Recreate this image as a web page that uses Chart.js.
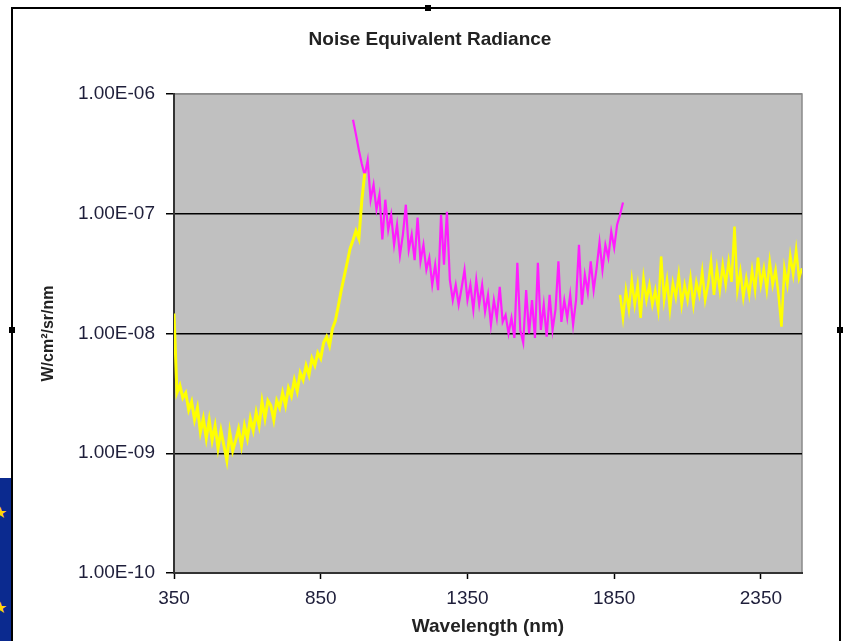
<!DOCTYPE html>
<html>
<head>
<meta charset="utf-8">
<script src="https://cdn.jsdelivr.net/npm/chart.js@4.4.0/dist/chart.umd.min.js"></script>
<style>
html, body { margin: 0; padding: 0; background: #fff; width: 845px; height: 641px; overflow: hidden; position: relative; }
#frame { position: absolute; left: 12px; top: 8px; width: 826px; height: 633px; }
.line { position: absolute; background: #000; }
.handle { position: absolute; width: 6px; height: 6px; background: #000; }
#flag { position: absolute; left: 0; top: 478px; width: 11px; height: 163px; background: #0b2a8f; overflow: hidden; }
.star { position: absolute; left: -7px; color: #ffd800; font-size: 16px; line-height: 16px; font-family: "DejaVu Sans", sans-serif; }
</style>
</head>
<body>
<div id="flag"><span class="star" style="top:27px">★</span><span class="star" style="top:122px">★</span></div>
<div id="frame"><canvas id="nerChart" width="826" height="633"></canvas></div>
<div class="line" style="left:11px;top:8px;width:2px;height:633px"></div>
<div class="line" style="left:11px;top:7px;width:830px;height:2px"></div>
<div class="line" style="left:839px;top:7px;width:2px;height:634px"></div>
<div class="handle" style="left:425px;top:5px"></div>
<div class="handle" style="left:9px;top:327px"></div>
<div class="handle" style="left:837px;top:327px"></div>
<script>
// VNIR detector (yellow, left part)
const wlVnir = [350, 360, 370, 380, 390, 400, 410, 420, 430, 440, 450, 460, 470, 480, 490, 500,
	510, 520, 530, 540, 550, 560, 570, 580, 590, 600, 610, 620, 630, 640, 650, 660, 670, 680,
	690, 700, 710, 720, 730, 740, 750, 760, 770, 780, 790, 800, 810, 820, 830, 840, 850, 860,
	870, 880, 890, 900, 910, 920, 930, 940, 950, 960, 970, 980, 990, 1000];
const nerVnir = [1.47e-8, 3.2e-9, 3.7e-9, 2.9e-9, 3.2e-9, 2.3e-9, 2.7e-9, 1.9e-9, 2.4e-9, 1.5e-9,
	1.95e-9, 1.33e-9, 1.9e-9, 1.28e-9, 1.7e-9, 1.1e-9, 1.55e-9, 1.16e-9, 8.7e-10, 1.5e-9,
	1.05e-9, 1.28e-9, 1.6e-9, 1.16e-9, 1.7e-9, 1.33e-9, 1.95e-9, 1.55e-9, 2.2e-9, 1.7e-9,
	2.7e-9, 1.95e-9, 2.75e-9, 2.5e-9, 1.9e-9, 2.75e-9, 2.4e-9, 3.2e-9, 2.5e-9, 3.5e-9,
	3.0e-9, 4.1e-9, 3.3e-9, 4.7e-9, 4.1e-9, 5.4e-9, 4.5e-9, 6.2e-9, 5.4e-9, 6.9e-9,
	6.2e-9, 8.4e-9, 9.4e-9, 7.9e-9, 1.1e-8, 1.28e-8, 1.7e-8, 2.3e-8, 3.0e-8, 3.9e-8,
	5.1e-8, 6.0e-8, 7.2e-8, 6.2e-8, 1.29e-7, 2.17e-7];

// SWIR1 detector (magenta)
const wlSwir1 = [960, 970, 980, 990, 1000, 1010, 1020, 1030, 1040, 1050, 1060, 1070, 1080, 1090,
	1100, 1110, 1120, 1130, 1140, 1150, 1160, 1170, 1180, 1190, 1200, 1210, 1220, 1230, 1240,
	1250, 1260, 1270, 1280, 1290, 1300, 1310, 1320, 1330, 1340, 1350, 1360, 1370, 1380, 1390,
	1400, 1410, 1420, 1430, 1440, 1450, 1460, 1470, 1480, 1490, 1500, 1510, 1520, 1530, 1540,
	1550, 1560, 1570, 1580, 1590, 1600, 1610, 1620, 1630, 1640, 1650, 1660, 1670, 1680, 1690,
	1700, 1710, 1720, 1730, 1740, 1750, 1760, 1770, 1780, 1790, 1800, 1810, 1820, 1830, 1840,
	1850, 1860, 1870, 1880];
const nerSwir1 = [6.1e-7, 4.6e-7, 3.4e-7, 2.6e-7, 2.1e-7, 2.8e-7, 1.31e-7, 1.75e-7, 1.08e-7, 1.44e-7,
	6.1e-8, 1.31e-7, 7.3e-8, 9.8e-8, 5.5e-8, 8.1e-8, 4.5e-8, 6.7e-8, 1.19e-7, 5.0e-8,
	6.7e-8, 4.1e-8, 9.3e-8, 4.0e-8, 5.5e-8, 3.4e-8, 4.3e-8, 2.55e-8, 3.75e-8, 2.3e-8,
	9.8e-8, 3.75e-8, 1.04e-7, 2.8e-8, 1.9e-8, 2.55e-8, 1.74e-8, 2.4e-8, 3.4e-8, 1.9e-8,
	2.55e-8, 1.58e-8, 2.8e-8, 1.74e-8, 2.55e-8, 1.52e-8, 2.1e-8, 1.18e-8, 1.9e-8, 1.35e-8,
	2.45e-8, 1.25e-8, 1.43e-8, 1.0e-8, 1.35e-8, 9.2e-9, 3.9e-8, 1.07e-8, 8.4e-9, 2.3e-8,
	1.0e-8, 1.9e-8, 9.2e-9, 3.9e-8, 1.07e-8, 1.74e-8, 9.4e-9, 2.1e-8, 1.07e-8, 1.58e-8,
	4.0e-8, 1.25e-8, 1.9e-8, 1.35e-8, 2.1e-8, 1.18e-8, 1.9e-8, 5.5e-8, 1.74e-8, 3.1e-8,
	2.2e-8, 4.0e-8, 2.3e-8, 3.5e-8, 5.8e-8, 3.4e-8, 5.5e-8, 4.3e-8, 7.1e-8, 5.2e-8,
	8.1e-8, 9.8e-8, 1.24e-7];

// SWIR2 detector (yellow, right part)
const wlSwir2 = [1870, 1880, 1890, 1900, 1910, 1920, 1930, 1940, 1950, 1960, 1970, 1980, 1990,
	2000, 2010, 2020, 2030, 2040, 2050, 2060, 2070, 2080, 2090, 2100, 2110, 2120, 2130, 2140,
	2150, 2160, 2170, 2180, 2190, 2200, 2210, 2220, 2230, 2240, 2250, 2260, 2270, 2280, 2290,
	2300, 2310, 2320, 2330, 2340, 2350, 2360, 2370, 2380, 2390, 2400, 2410, 2420, 2430, 2440,
	2450, 2460, 2470, 2480, 2490];
const nerSwir2 = [2.1e-8, 1.35e-8, 2.3e-8, 1.58e-8, 2.8e-8, 1.74e-8, 2.55e-8, 1.35e-8, 2.9e-8, 1.9e-8,
	2.55e-8, 1.74e-8, 2.3e-8, 1.58e-8, 4.4e-8, 1.9e-8, 2.8e-8, 1.58e-8, 2.65e-8, 2.0e-8,
	3.1e-8, 1.74e-8, 2.55e-8, 1.9e-8, 2.9e-8, 1.74e-8, 2.7e-8, 2.1e-8, 3.3e-8, 1.9e-8,
	2.55e-8, 4.0e-8, 2.1e-8, 3.5e-8, 2.3e-8, 3.75e-8, 2.55e-8, 4.0e-8, 2.7e-8, 7.8e-8,
	2.3e-8, 3.3e-8, 2.0e-8, 2.9e-8, 2.1e-8, 3.4e-8, 2.3e-8, 4.3e-8, 2.55e-8, 3.5e-8,
	2.3e-8, 4.0e-8, 2.55e-8, 3.4e-8, 2.1e-8, 1.14e-8, 3.5e-8, 2.55e-8, 4.5e-8, 3.1e-8,
	5.0e-8, 2.9e-8, 3.5e-8];

const xTicks = [350, 850, 1350, 1850, 2350];
const yTicks = [1e-10, 1e-9, 1e-8, 1e-7, 1e-6];
const yTickLabels = ["1.00E-10", "1.00E-09", "1.00E-08", "1.00E-07", "1.00E-06"];
const chartTitle = "Noise Equivalent Radiance";

const toPoints = (xs, ys) => xs.map((x, i) => ({ x: x, y: ys[i] }));

const fontFamily = "'Liberation Sans', Arial, sans-serif";
const labelFont = { family: fontFamily, size: 19 };
const boldFont = { family: fontFamily, size: 19, weight: "bold" };

// fondo gris del área de trazado + título centrado en el marco
const plotBg = {
	id: "plotBg",
	beforeDraw(chart) {
		const { ctx, chartArea: a } = chart;
		ctx.save();
		ctx.fillStyle = "#ffffff";
		ctx.fillRect(0, 0, chart.width, chart.height);
		ctx.fillStyle = "#c0c0c0";
		ctx.fillRect(a.left, a.top, a.right - a.left, a.bottom - a.top);
		ctx.strokeStyle = "#8a8a8a";
		ctx.lineWidth = 1.5;
		ctx.strokeRect(a.left, a.top, a.right - a.left, a.bottom - a.top);
		ctx.restore();
	},
	afterDraw(chart) {
		const ctx = chart.ctx;
		ctx.save();
		ctx.font = "bold 19px " + fontFamily;
		ctx.fillStyle = "#222";
		ctx.textAlign = "center";
		ctx.textBaseline = "middle";
		ctx.fillText(chartTitle, 418, 32);
		ctx.restore();
	}
};

new Chart(document.getElementById("nerChart"), {
	type: "line",
	data: {
		datasets: [
			{ data: toPoints(wlVnir, nerVnir), borderColor: "#ffff00", borderWidth: 3 },
			{ data: toPoints(wlSwir1, nerSwir1), borderColor: "#ff1cff", borderWidth: 2.2 },
			{ data: toPoints(wlSwir2, nerSwir2), borderColor: "#ffff00", borderWidth: 2.5 }
		]
	},
	options: {
		responsive: false,
		animation: false,
		elements: { point: { radius: 0 }, line: { tension: 0 } },
		layout: { padding: { left: 0, right: 36, top: 86, bottom: 0 } },
		plugins: {
			legend: { display: false },
			tooltip: { enabled: false },
			title: { display: false }
		},
		scales: {
			x: {
				type: "linear",
				min: 350,
				max: 2490,
				afterBuildTicks: s => { s.ticks = xTicks.map(v => ({ value: v })); },
				afterFit: s => { s.height = 68; },
				ticks: { autoSkip: false, maxRotation: 0, padding: 8, color: "#1e1e3a", font: labelFont, callback: v => String(v) },
				grid: { drawOnChartArea: false, drawTicks: true, tickLength: 6, color: "#000", tickWidth: 1.5 },
				border: { display: true, color: "#333", width: 2 },
				title: { display: true, text: "Wavelength (nm)", color: "#222", font: boldFont, padding: { top: 0, bottom: 3 } }
			},
			y: {
				type: "logarithmic",
				min: 1e-10,
				max: 1e-6,
				afterBuildTicks: s => { s.ticks = yTicks.map(v => ({ value: v })); },
				afterFit: s => { s.width = 162; },
				ticks: { autoSkip: false, padding: 11, color: "#1e1e3a", font: labelFont, callback: (v, i) => yTickLabels[i] },
				grid: {
					drawTicks: true,
					tickLength: 8,
					lineWidth: 1.5,
					color: ctx => (ctx.tick && ctx.tick.value === 1e-6 ? "#8a8a8a" : "#000"),
					tickColor: "#000"
				},
				border: { display: true, color: "#333", width: 2 },
				title: { display: true, text: "W/cm²/sr/nm", color: "#222", font: { family: fontFamily, size: 16, weight: "bold" }, padding: { top: 27, bottom: 0 } }
			}
		}
	},
	plugins: [plotBg]
});
</script>
</body>
</html>
